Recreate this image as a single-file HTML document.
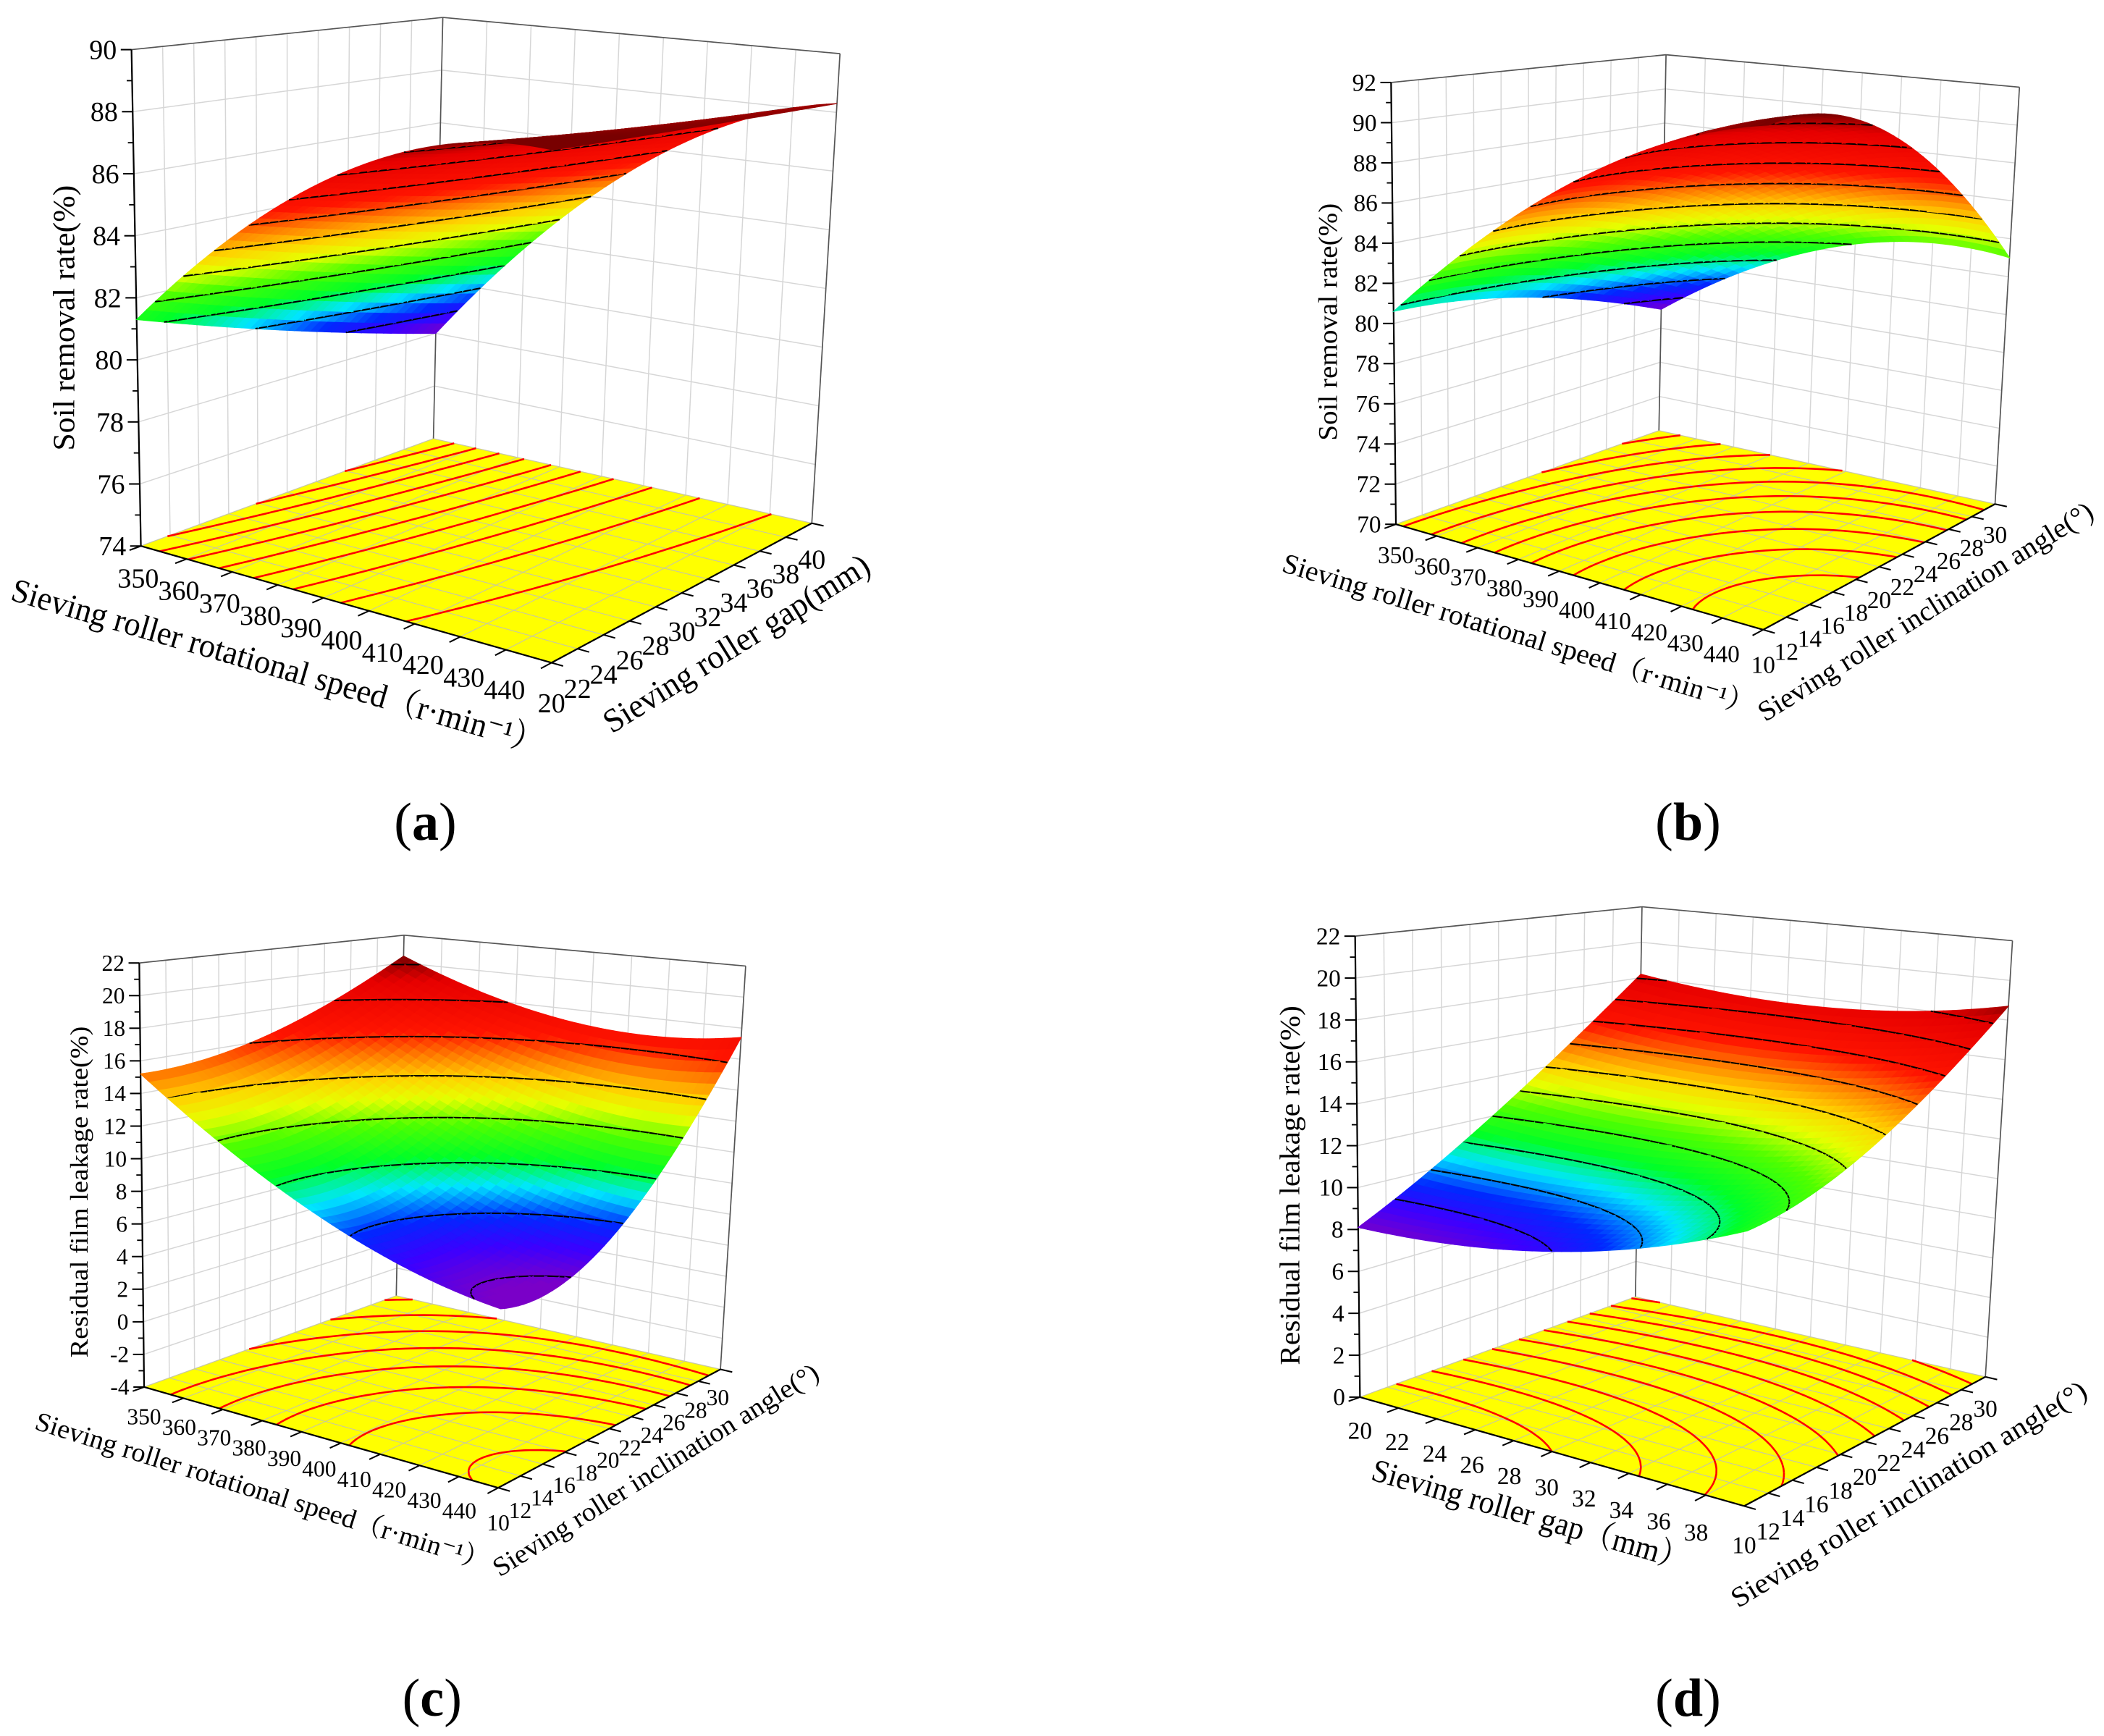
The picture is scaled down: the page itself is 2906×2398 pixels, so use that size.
<!DOCTYPE html>
<html><head><meta charset="utf-8"><title>Response surfaces</title>
<style>html,body{margin:0;padding:0;background:#fff}svg{display:block}</style></head>
<body>
<svg id="fig" xmlns="http://www.w3.org/2000/svg" width="2906" height="2398" viewBox="0 0 1568 1294" preserveAspectRatio="none" style="font-family:'Liberation Serif','Noto Serif CJK SC',serif;background:#fff">
<text x="317" y="626" font-size="40" text-anchor="middle">(<tspan font-weight="bold">a</tspan>)</text>
<text x="1258" y="626" font-size="40" text-anchor="middle">(<tspan font-weight="bold">b</tspan>)</text>
<text x="322" y="1279" font-size="40" text-anchor="middle">(<tspan font-weight="bold">c</tspan>)</text>
<text x="1258" y="1279" font-size="40" text-anchor="middle">(<tspan font-weight="bold">d</tspan>)</text>
</svg>
<script>
// ---- data ----
const xTicksSpeed = [350,360,370,380,390,400,410,420,430,440];
const yTicksGap = [20,22,24,26,28,30,32,34,36,38,40];
const yTicksAngle = [10,12,14,16,18,20,22,24,26,28,30];
const xTicksGapD = [20,22,24,26,28,30,32,34,36,38];
const zTicksA = [74,76,78,80,82,84,86,88,90];
const zTicksB = [70,72,74,76,78,80,82,84,86,88,90,92];
const zTicksC = [-4,-2,0,2,4,6,8,10,12,14,16,18,20,22];
const zTicksD = [0,2,4,6,8,10,12,14,16,18,20,22];
// response-surface coefficients (normalized u = x-axis, v = y-axis): [c, u, u², v, v², uv, uv²]
const coefA = [81.3, 15.8, -8.4, -3.3, 0, 2.9, 0];
const coefB = [80.6, 20.6, -8.8, -0.1, -3.4, 3.1, -9];
const coefC = [15.2, -16.6, 7.2, -0.5, 5.8, -3.7, 10];
const coefD = [8.1, 0, 3.6, 6.3, 3.8, -5.3, 2.2];
const levelsA = [79,80,81,82,83,84,85,86,87,88];
const levelsB = [78,79.5,81,82.5,84,85.5,87,88.5,90,91.5];
const levelsC = [6,8,10,12,14,16,18,20];
const levelsD = [9,10,11,12,13,14,15,16,17,18];

const NS='http://www.w3.org/2000/svg';
const svg=document.getElementById('fig');
function mk(tag,parent){const e=document.createElementNS(NS,tag);parent.appendChild(e);return e;}
function bil(a,b,c,d,u,v){return [a[0]*(1-u)*(1-v)+b[0]*u*(1-v)+c[0]*u*v+d[0]*(1-u)*v, a[1]*(1-u)*(1-v)+b[1]*u*(1-v)+c[1]*u*v+d[1]*(1-u)*v];}
function P(p,u,v,w){const f=bil(p.L,p.F,p.R,p.B,u,v),t=bil(p.Lt,p.Ft,p.Rt,p.Bt,u,v);return [f[0]+(t[0]-f[0])*w,f[1]+(t[1]-f[1])*w];}
function model(c,u,v){return c[0]+c[1]*u+c[2]*u*u+c[3]*v+c[4]*v*v+c[5]*u*v+c[6]*u*v*v;}
const stops=[[0,[122,0,200]],[0.07,[60,0,255]],[0.14,[0,40,255]],[0.22,[0,230,255]],[0.3,[0,255,40]],[0.4,[80,255,0]],[0.48,[230,255,0]],[0.55,[255,210,0]],[0.63,[255,120,0]],[0.71,[255,20,0]],[0.9,[230,0,0]],[1,[120,0,0]]];
function cmap(t){t=Math.max(0,Math.min(1,t));for(let i=1;i<stops.length;i++){if(t<=stops[i][0]){const a=stops[i-1],b=stops[i],k=(t-a[0])/(b[0]-a[0]);const c=a[1].map((x,j)=>Math.round(x+(b[1][j]-x)*k));return 'rgb('+c.join(',')+')';}}return 'rgb(120,0,0)';}
function line(parent,a,b,col,wd){const l=mk('line',parent);l.setAttribute('x1',a[0].toFixed(2));l.setAttribute('y1',a[1].toFixed(2));l.setAttribute('x2',b[0].toFixed(2));l.setAttribute('y2',b[1].toFixed(2));l.setAttribute('stroke',col);l.setAttribute('stroke-width',wd);return l;}
function poly(pts){return 'M'+pts.map(p=>p[0].toFixed(2)+','+p[1].toFixed(2)).join('L')+'Z';}
function cellSegs(u0,v0,du,dv,zs,lev){const pts=[[u0,v0],[u0+du,v0],[u0+du,v0+dv],[u0,v0+dv]];const cr=[];for(let i=0;i<4;i++){const j=(i+1)%4;const a=zs[i]-lev,b=zs[j]-lev;if((a<0)!==(b<0)){const t=a/(a-b);cr.push([pts[i][0]+(pts[j][0]-pts[i][0])*t,pts[i][1]+(pts[j][1]-pts[i][1])*t]);}}const s=[];if(cr.length>=2)s.push([cr[0],cr[1]]);if(cr.length===4)s.push([cr[2],cr[3]]);return s;}

const panels=[
 {id:'a',L:[105,407],F:[411,494],R:[605,390],B:[323,327],Lt:[98,37],Ft:[412,78],Rt:[626,40],Bt:[330,13],
  xr:[350,440],yr:[20,40],zr:[74,90],xt:xTicksSpeed,yt:yTicksGap,zt:zTicksA,coef:coefA,levels:levelsA,fs:20.5,cd:[78,88.6],
  xoA:[-2,24],xoB:[-35,20],yoA:[0,30],yoB:[0,27],
  zTitle:{x:48,y:237,len:198,fs:23,text:'Soil removal rate(%)'},
  xTitle:{cx:207,cy:497,ang:16.2,len:412,fs:25,text:'Sieving roller rotational speed（r·min⁻¹）'},
  yTitle:{cx:549,cy:480,ang:-31.9,len:229,fs:25,text:'Sieving roller gap(mm)'}},
 {id:'b',L:[1040.3,390.8],F:[1314,469.4],R:[1486.8,375.7],B:[1236.3,321],Lt:[1036.7,61.5],Ft:[1318,100],Rt:[1505,65],Bt:[1241.6,40.8],
  xr:[350,440],yr:[10,30],zr:[70,92],xt:xTicksSpeed,yt:yTicksAngle,zt:zTicksB,coef:coefB,levels:levelsB,fs:18,cd:[77,92.4],
  xoA:[0,23],xoB:[-31,18],yoA:[0,26],yoB:[0,23],
  zTitle:{x:990,y:240,len:177,fs:20,text:'Soil removal rate(%)'},
  xTitle:{cx:1131.8,cy:472.9,ang:17,len:367,fs:21,text:'Sieving roller rotational speed（r·min⁻¹）'},
  yTitle:{cx:1435,cy:456,ang:-31.9,len:290,fs:21,text:'Sieving roller inclination angle(°)'}},
 {id:'c',L:[107.4,1033.9],F:[371.3,1109],R:[536.9,1020.7],B:[295.3,965.9],Lt:[103.8,717.8],Ft:[376,755],Rt:[555.7,720.1],Bt:[301.1,697.1],
  xr:[350,440],yr:[10,30],zr:[-4,22],xt:xTicksSpeed,yt:yTicksAngle,zt:zTicksC,coef:coefC,levels:levelsC,fs:17,cd:[5.8,20.5],
  xoA:[0,22],xoB:[-29,17],yoA:[0,26],yoB:[-2,21],
  zTitle:{x:59,y:888.5,len:247,fs:19,text:'Residual film leakage rate(%)'},
  xTitle:{cx:195.7,cy:1112,ang:17.4,len:354,fs:20,text:'Sieving roller rotational speed（r·min⁻¹）'},
  yTitle:{cx:488.8,cy:1096,ang:-31.9,len:282,fs:20,text:'Sieving roller inclination angle(°)'}},
 {id:'d',L:[1013.5,1041.4],F:[1299.8,1122.6],R:[1479.6,1026.3],B:[1218.8,966.7],Lt:[1009.9,697.8],Ft:[1304,737],Rt:[1499.8,701.2],Bt:[1223.7,675.9],
  xr:[20,40],yr:[10,30],zr:[0,22],xt:xTicksGapD,yt:yTicksAngle,zt:zTicksD,coef:coefD,levels:levelsD,fs:18,cd:[8,19],
  xoA:[0,25],xoB:[-8,28],yoA:[0,29],yoB:[0,23.5],
  zTitle:{x:961.5,y:883.6,len:268,fs:21,text:'Residual film leakage rate(%)'},
  xTitle:{cx:1140.8,cy:1129,ang:16.1,len:245,fs:24,text:'Sieving roller gap（mm）'},
  yTitle:{cx:1422.6,cy:1113.9,ang:-31.2,len:306,fs:21,text:'Sieving roller inclination angle(°)'}}
];

function drawPanel(p){
 const g=mk('g',svg);
 
 
 const xu=x=>(x-p.xr[0])/(p.xr[1]-p.xr[0]);
 const yv=y=>(y-p.yr[0])/(p.yr[1]-p.yr[0]);
 const zw=z=>(z-p.zr[0])/(p.zr[1]-p.zr[0]);
 const walls=mk('g',g);
 
 
 const gc='#d6d6d6';
 p.yt.forEach(y=>{line(walls,P(p,0,yv(y),0),P(p,0,yv(y),1),gc,0.8);});
 p.xt.forEach(x=>{line(walls,P(p,xu(x),1,0),P(p,xu(x),1,1),gc,0.8);});
 p.zt.forEach(z=>{const w=zw(z);line(walls,P(p,0,0,w),P(p,0,1,w),gc,0.8);line(walls,P(p,0,1,w),P(p,1,1,w),gc,0.8);});
 line(walls,P(p,0,1,0),P(p,0,1,1),'#555',0.9);
 line(walls,P(p,1,1,0),P(p,1,1,1),'#555',0.9);
 line(walls,P(p,0,0,1),P(p,0,1,1),'#555',0.9);
 line(walls,P(p,0,1,1),P(p,1,1,1),'#555',0.9);
 const floor=mk('path',g);
 
 
 floor.setAttribute('d',poly([p.L,p.F,p.R,p.B]));floor.setAttribute('fill','#ffff00');
 const fg=mk('g',g);
 
 
 p.xt.forEach(x=>line(fg,P(p,xu(x),0,0),P(p,xu(x),1,0),'#c8c8a0',0.6));
 p.yt.forEach(y=>line(fg,P(p,0,yv(y),0),P(p,1,yv(y),0),'#c8c8a0',0.6));
 const N=40,du=1/N;const Z=[];
 for(let i=0;i<=N;i++){Z[i]=[];for(let j=0;j<=N;j++){Z[i][j]=model(p.coef,i*du,j*du);}}
 const fc=mk('g',g);
 
 
 let fd='';
 for(let i=0;i<N;i++)for(let j=0;j<N;j++){const zs=[Z[i][j],Z[i+1][j],Z[i+1][j+1],Z[i][j+1]];p.levels.forEach(l=>{cellSegs(i*du,j*du,du,du,zs,l).forEach(s=>{const a=P(p,s[0][0],s[0][1],0),b=P(p,s[1][0],s[1][1],0);fd+='M'+a[0].toFixed(2)+','+a[1].toFixed(2)+'L'+b[0].toFixed(2)+','+b[1].toFixed(2);});});}
 const fcp=mk('path',fc);fcp.setAttribute('d',fd);fcp.setAttribute('stroke','#ff0000');fcp.setAttribute('stroke-width','1.4');fcp.setAttribute('fill','none');
 const ax=mk('g',g);
 
 
 line(ax,p.L,P(p,0,0,1),'#000',1.2);
 line(ax,p.L,p.F,'#000',1.2);
 line(ax,p.F,p.R,'#000',1.2);
 p.zt.forEach((z,k)=>{const q=P(p,0,0,zw(z));line(ax,q,[q[0]-8,q[1]],'#000',1.1);
  if(k<p.zt.length-1){const q2=P(p,0,0,zw((z+p.zt[k+1])/2));line(ax,q2,[q2[0]-4,q2[1]],'#000',1);}
  const t=mk('text',ax);
  
  
  t.setAttribute('x',(q[0]-11).toFixed(1));t.setAttribute('y',(q[1]+p.fs*0.34).toFixed(1));t.setAttribute('text-anchor','end');t.setAttribute('font-size',p.fs);t.textContent=z;});
 p.xt.forEach(x=>{const u=xu(x);const a=P(p,u,0,0),b=P(p,u,1,0);const dx=a[0]-b[0],dy=a[1]-b[1],n=Math.hypot(dx,dy);line(ax,a,[a[0]+dx/n*9,a[1]+dy/n*9],'#000',1.1);
  const ox=p.xoA[0]+(p.xoB[0]-p.xoA[0])*u,oy=p.xoA[1]+(p.xoB[1]-p.xoA[1])*u;
  const t=mk('text',ax);
  
  
  t.setAttribute('x',(a[0]+ox).toFixed(1));t.setAttribute('y',(a[1]+oy+p.fs*0.34).toFixed(1));t.setAttribute('text-anchor','middle');t.setAttribute('font-size',p.fs);t.textContent=x;});
 p.yt.forEach(y=>{const v=yv(y);const a=P(p,1,v,0),b=P(p,0,v,0);const dx=a[0]-b[0],dy=a[1]-b[1],n=Math.hypot(dx,dy);line(ax,a,[a[0]+dx/n*9,a[1]+dy/n*9],'#000',1.1);
  const ox=p.yoA[0]+(p.yoB[0]-p.yoA[0])*v,oy=p.yoA[1]+(p.yoB[1]-p.yoA[1])*v;
  const t=mk('text',ax);
  
  
  t.setAttribute('x',(a[0]+ox).toFixed(1));t.setAttribute('y',(a[1]+oy+p.fs*0.34).toFixed(1));t.setAttribute('text-anchor','middle');t.setAttribute('font-size',p.fs);t.textContent=y;});
 const sg=mk('g',g);
 
 
 const cells=[];for(let i=0;i<N;i++)for(let j=0;j<N;j++)cells.push([i,j,(1-(i+0.5)*du)+(j+0.5)*du]);
 cells.sort((a,b)=>b[2]-a[2]);
 cells.forEach(([i,j])=>{const zs=[Z[i][j],Z[i+1][j],Z[i+1][j+1],Z[i][j+1]];const uv=[[i*du,j*du],[(i+1)*du,j*du],[(i+1)*du,(j+1)*du],[i*du,(j+1)*du]];
  const pts=uv.map((q,k)=>P(p,q[0],q[1],zw(zs[k])));const avg=(zs[0]+zs[1]+zs[2]+zs[3])/4;const col=cmap((avg-p.cd[0])/(p.cd[1]-p.cd[0]));
  const c=mk('path',sg);c.setAttribute('d',poly(pts));c.setAttribute('fill',col);c.setAttribute('stroke',col);c.setAttribute('stroke-width','0.6');
  let d='';p.levels.forEach(l=>{cellSegs(i*du,j*du,du,du,zs,l).forEach(s=>{const a=P(p,s[0][0],s[0][1],zw(l)),b=P(p,s[1][0],s[1][1],zw(l));d+='M'+a[0].toFixed(2)+','+a[1].toFixed(2)+'L'+b[0].toFixed(2)+','+b[1].toFixed(2);});});
  if(d){const cl=mk('path',sg);cl.setAttribute('d',d);cl.setAttribute('stroke','#000');cl.setAttribute('stroke-width','1.1');cl.setAttribute('fill','none');}
 });
 const zt=mk('text',g);
 
 
 zt.setAttribute('x',p.zTitle.x);zt.setAttribute('y',p.zTitle.y);zt.setAttribute('text-anchor','middle');zt.setAttribute('dominant-baseline','central');zt.setAttribute('font-size',p.zTitle.fs);zt.setAttribute('textLength',p.zTitle.len);zt.setAttribute('lengthAdjust','spacingAndGlyphs');zt.setAttribute('transform','rotate(-90 '+p.zTitle.x+' '+p.zTitle.y+')');zt.textContent=p.zTitle.text;
 [['x-axis-title',p.xTitle],['y-axis-title',p.yTitle]].forEach(([nm,T])=>{const t=mk('text',g);
  
  
  t.setAttribute('x',T.cx);t.setAttribute('y',T.cy);t.setAttribute('text-anchor','middle');t.setAttribute('dominant-baseline','central');t.setAttribute('font-size',T.fs);t.setAttribute('textLength',T.len);t.setAttribute('lengthAdjust','spacingAndGlyphs');t.setAttribute('transform','rotate('+T.ang+' '+T.cx+' '+T.cy+')');t.textContent=T.text;});
}
panels.forEach(drawPanel);
</script>
</body></html>
